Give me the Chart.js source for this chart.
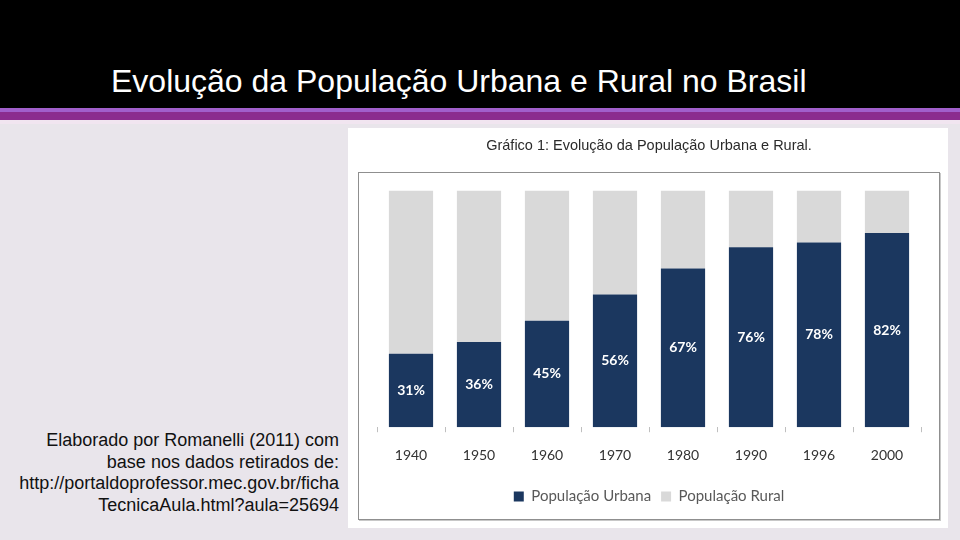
<!DOCTYPE html>
<html>
<head>
<meta charset="utf-8">
<script src="https://cdn.jsdelivr.net/npm/chart.js@4.4.0/dist/chart.umd.min.js"></script>
<style>
  body { margin: 0; width: 960px; height: 540px; background: #e9e5eb; position: relative; overflow: hidden; font-family: "Liberation Sans", Arial, sans-serif; }
  #top { position: absolute; left: 0; top: 0; width: 960px; height: 108px; background: #000; }
  #title { position: absolute; left: 111px; top: 62px; color: #fff; font-size: 32px; line-height: 38px; white-space: nowrap; }
  #s1 { position: absolute; left: 0; top: 108px; width: 960px; height: 4px; background: #a15fcb; }
  #s2 { position: absolute; left: 0; top: 112px; width: 960px; height: 8px; background: #8b2c8e; }
  #s3 { position: absolute; left: 0; top: 120px; width: 960px; height: 4px; background: #f1e5f0; }
  #note { position: absolute; right: 621px; top: 430px; text-align: right; font-size: 18px; line-height: 21.5px; color: #111; white-space: nowrap; }
  #panel { position: absolute; left: 348px; top: 128px; width: 600px; height: 400px; background: #fff; }
  #frame { position: absolute; left: 10px; top: 44px; width: 580px; height: 346px; border: 1px solid #8f8f8f; box-shadow: 1px 1px 0 #c8c8c8; }
  #chart { position: absolute; left: 0; top: 0; }
</style>
</head>
<body>
<div id="top"></div>
<div id="title">Evolução da População Urbana e Rural no Brasil</div>
<div id="s1"></div><div id="s2"></div><div id="s3"></div>
<div id="note">Elaborado por Romanelli (2011) com<br>base nos dados retirados de:<br>http://portaldoprofessor.mec.gov.br/ficha<br>TecnicaAula.html?aula=25694</div>
<div id="panel">
  <div id="frame"></div>
  <canvas id="chart" width="600" height="400"></canvas>
</div>
<script>
const years = ["1940", "1950", "1960", "1970", "1980", "1990", "1996", "2000"];
const urbana = [31, 36, 45, 56, 67, 76, 78, 82];
const rural = [69, 64, 55, 44, 33, 24, 22, 18];

// percent labels in the middle of the urban bars
const barLabels = {
  id: "barLabels",
  afterDatasetsDraw(chart) {
    const ctx = chart.ctx;
    const meta = chart.getDatasetMeta(0);
    ctx.save();
    ctx.fillStyle = "#fff";
    ctx.font = "bold 14px Lato, 'Open Sans', sans-serif";
    ctx.textAlign = "center";
    ctx.textBaseline = "middle";
    meta.data.forEach((bar, i) => {
      const { x, y, base } = bar.getProps(["x", "y", "base"], true);
      ctx.fillText(urbana[i] + "%", x, (y + base) / 2);
    });
    ctx.restore();
  }
};

new Chart(document.getElementById("chart").getContext("2d"), {
  type: "bar",
  data: {
    labels: years,
    datasets: [
      { label: "População Urbana", data: urbana, backgroundColor: "#1b375f", categoryPercentage: 1, barPercentage: 0.65 },
      { label: "População Rural", data: rural, backgroundColor: "#d9d9d9", categoryPercentage: 1, barPercentage: 0.65 }
    ]
  },
  options: {
    responsive: false,
    animation: false,
    layout: { padding: { left: 29, right: 27, top: 0, bottom: 14 } },
    plugins: {
      title: {
        display: true,
        text: "Gráfico 1: Evolução da População Urbana e Rural.",
        color: "#2b2b2b",
        font: { family: "'Liberation Sans', Arial, sans-serif", size: 14.5, weight: "normal" },
        padding: { top: 9, bottom: 36 }
      },
      legend: {
        position: "bottom",
        labels: {
          boxWidth: 10,
          boxHeight: 10,
          color: "#595959",
          font: { family: "Lato, sans-serif", size: 15 },
          padding: 10
        }
      },
      tooltip: { enabled: false }
    },
    scales: {
      x: {
        stacked: true,
        border: { display: false },
        grid: { drawOnChartArea: false, drawTicks: true, tickLength: 5, color: "#bfbfbf" },
        ticks: { color: "#333", font: { family: "Lato, sans-serif", size: 14 }, padding: 15 }
      },
      y: { stacked: true, display: false, min: 0, max: 100 }
    }
  },
  plugins: [barLabels]
});
</script>
</body>
</html>
